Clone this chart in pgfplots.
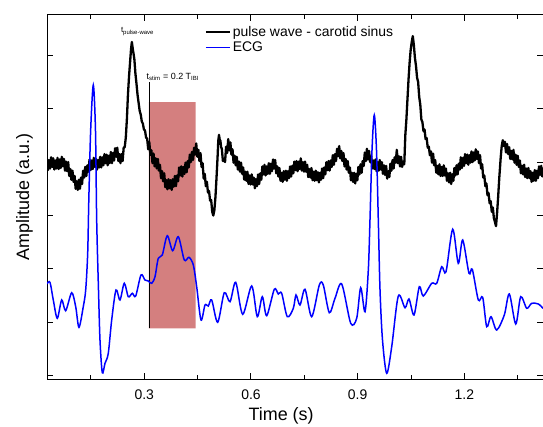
\documentclass[border=0pt]{standalone}
\usepackage{fontspec}
\setmainfont{Liberation Sans}
\usepackage{pgfplots}
\pgfplotsset{compat=1.18}
\definecolor{stimred}{RGB}{212,127,127}
\definecolor{ecgblue}{RGB}{0,0,255}
\pgfplotsset{
  commonframe/.style={
    scale only axis,
    width=496bp, height=364bp,
    xmin=0.0264, xmax=1.4211,
    ymin=-0.0618, ymax=6.755,
  },
}
\begin{document}
\begin{tikzpicture}
\begin{axis}[
  name=ax,
  commonframe,
  xtick={0.3,0.6,0.9,1.2},
  minor xtick={0.15,0.45,0.75,1.05,1.35},
  ytick={0,1,2,3,4,5,6},
  yticklabels={},
  tick align=inside,
  major tick length=6bp,
  minor tick length=4bp,
  every tick/.style={black, line width=1bp},
  axis line style={line width=1bp},
  /pgf/number format/assume math mode=true,
  xticklabel style={font=\fontsize{14}{16}\selectfont, inner sep=0pt, anchor=north, yshift=-11bp},
  xlabel={Time (s)},
  ylabel={Amplitude (a.u.)},
  xlabel style={font=\fontsize{18}{20}\selectfont, inner sep=0pt, at={(axis description cs:0.472,0)}, anchor=north, yshift=-28bp},
  ylabel style={font=\fontsize{18}{20}\selectfont, inner sep=0pt, at={(axis description cs:-0.028,0.5)}, anchor=south},
  legend style={at={(axis description cs:0.3185,0.975)}, anchor=north west, draw=none, fill=none, inner sep=0pt, font=\fontsize{14}{16}\selectfont},
  legend cell align=left,
]
% stimulation window
\addplot[fill=stimred, draw=none, forget plot] coordinates {(0.3132,0.887) (0.4445,0.887) (0.4445,5.125) (0.3132,5.125) (0.3132,0.887)};
\addplot[black, line width=0.9bp, forget plot] coordinates {(0.3132,0.887) (0.3132,5.506)};

% pulse wave - carotid sinus
\addplot[black, line width=2.3bp, line join=round,
  legend image code/.code={\draw[black, line width=1.6bp] (0bp,0bp) -- (24bp,0bp);}] table {
x y
0.026 4.06
0.029 3.85
0.032 4.04
0.035 3.88
0.038 4.09
0.041 3.91
0.044 4.07
0.047 3.86
0.050 4.03
0.053 3.88
0.056 4.08
0.059 3.87
0.062 4.05
0.065 3.89
0.068 4.10
0.071 3.92
0.074 4.06
0.077 3.84
0.080 4.01
0.083 3.83
0.086 4.00
0.089 3.74
0.092 3.87
0.095 3.67
0.098 3.84
0.101 3.63
0.104 3.74
0.107 3.50
0.110 3.64
0.113 3.48
0.116 3.67
0.119 3.50
0.122 3.71
0.125 3.59
0.128 3.84
0.131 3.71
0.134 3.91
0.137 3.74
0.140 3.94
0.143 3.82
0.146 4.05
0.149 3.85
0.152 4.03
0.155 3.87
0.158 4.08
0.161 3.91
0.164 4.06
0.167 3.86
0.170 4.04
0.173 3.90
0.176 4.10
0.179 3.90
0.182 4.09
0.185 3.94
0.188 4.15
0.191 3.98
0.194 4.14
0.197 3.94
0.200 4.12
0.203 3.98
0.206 4.19
0.209 3.98
0.212 4.17
0.215 4.03
0.218 4.26
0.221 4.10
0.224 4.27
0.227 4.02
0.230 4.15
0.233 3.98
0.236 4.15
0.239 4.02
0.242 4.27
0.245 4.28
0.248 4.46
0.251 4.80
0.254 5.26
0.257 5.60
0.260 5.87
0.2625 6.10
0.265 6.25
0.268 6.10
0.2705 6.00
0.272 5.93
0.275 5.66
0.278 5.47
0.281 5.26
0.284 5.11
0.287 4.96
0.290 4.89
0.293 4.76
0.296 4.72
0.299 4.61
0.302 4.59
0.305 4.46
0.308 4.44
0.311 4.24
0.314 4.38
0.317 4.14
0.320 4.22
0.323 3.98
0.326 4.16
0.329 3.92
0.332 4.07
0.335 3.88
0.338 4.06
0.341 3.84
0.344 3.95
0.347 3.70
0.350 3.83
0.353 3.64
0.356 3.79
0.359 3.53
0.362 3.66
0.365 3.49
0.368 3.68
0.371 3.51
0.374 3.66
0.377 3.48
0.380 3.68
0.383 3.54
0.386 3.74
0.389 3.55
0.392 3.75
0.395 3.64
0.398 3.90
0.401 3.75
0.404 3.92
0.407 3.73
0.410 3.91
0.413 3.78
0.416 3.99
0.419 3.81
0.422 4.02
0.425 3.90
0.428 4.14
0.431 4.00
0.434 4.19
0.437 4.04
0.440 4.27
0.443 4.14
0.446 4.35
0.449 4.10
0.452 4.23
0.455 4.02
0.458 4.17
0.461 3.91
0.464 3.98
0.467 3.69
0.470 3.78
0.473 3.55
0.476 3.63
0.479 3.43
0.482 3.46
0.485 3.28
0.488 3.29
0.491 3.07
0.494 3.00
0.497 3.10
0.500 3.34
0.503 3.70
0.506 4.09
0.508 4.40
0.510 4.51
0.512 4.42
0.514 4.40
0.516 4.28
0.518 4.25
0.521 4.02
0.524 4.06
0.527 4.00
0.530 4.29
0.533 4.17
0.536 4.43
0.539 4.22
0.542 4.37
0.545 4.14
0.548 4.24
0.551 3.99
0.554 4.12
0.557 3.94
0.560 4.10
0.563 3.86
0.566 4.01
0.569 3.82
0.572 3.99
0.575 3.78
0.578 3.90
0.581 3.67
0.584 3.82
0.587 3.65
0.590 3.82
0.593 3.59
0.596 3.75
0.599 3.58
0.602 3.77
0.605 3.58
0.608 3.71
0.611 3.51
0.614 3.68
0.617 3.55
0.620 3.77
0.623 3.59
0.626 3.79
0.629 3.67
0.632 3.92
0.635 3.77
0.638 3.95
0.641 3.75
0.644 3.92
0.647 3.78
0.650 3.98
0.653 3.78
0.656 3.97
0.659 3.83
0.662 4.05
0.665 3.88
0.668 4.04
0.671 3.79
0.674 3.92
0.677 3.73
0.680 3.89
0.683 3.65
0.686 3.80
0.689 3.63
0.692 3.83
0.695 3.67
0.698 3.84
0.701 3.65
0.704 3.83
0.707 3.70
0.710 3.92
0.713 3.73
0.716 3.93
0.719 3.79
0.722 4.01
0.725 3.85
0.728 4.02
0.731 3.83
0.734 4.01
0.737 3.87
0.740 4.07
0.743 3.84
0.746 4.00
0.749 3.82
0.752 4.01
0.755 3.82
0.758 3.95
0.761 3.72
0.764 3.87
0.767 3.71
0.770 3.89
0.773 3.66
0.776 3.82
0.779 3.65
0.782 3.84
0.785 3.66
0.788 3.81
0.791 3.62
0.794 3.80
0.797 3.67
0.800 3.88
0.803 3.70
0.806 3.90
0.809 3.77
0.812 4.00
0.815 3.85
0.818 4.02
0.821 3.84
0.824 4.03
0.827 3.91
0.830 4.13
0.833 3.95
0.836 4.15
0.839 4.02
0.842 4.25
0.845 4.11
0.848 4.30
0.851 4.07
0.854 4.21
0.857 4.02
0.860 4.17
0.863 3.92
0.866 4.06
0.869 3.86
0.872 4.02
0.875 3.80
0.878 3.90
0.881 3.66
0.884 3.80
0.887 3.63
0.890 3.80
0.893 3.60
0.896 3.78
0.899 3.66
0.902 3.91
0.905 3.77
0.908 3.96
0.911 3.80
0.914 4.02
0.917 3.93
0.920 4.18
0.923 4.02
0.926 4.25
0.929 4.05
0.932 4.21
0.935 4.00
0.938 4.11
0.941 3.88
0.944 4.03
0.947 3.87
0.950 4.05
0.953 3.83
0.956 4.00
0.959 3.84
0.962 4.04
0.965 3.86
0.968 4.00
0.971 3.78
0.974 3.94
0.977 3.76
0.980 3.93
0.983 3.69
0.986 3.83
0.989 3.72
0.992 3.97
0.995 3.84
0.998 4.04
1.001 3.88
1.004 4.09
1.007 3.99
1.010 4.23
1.013 3.98
1.016 4.11
1.019 3.92
1.022 4.10
1.025 3.91
1.028 4.01
1.031 3.96
1.034 4.51
1.037 4.80
1.040 5.18
1.043 5.55
1.046 5.86
1.049 6.10
1.052 6.25
1.055 6.36
1.058 6.19
1.061 5.95
1.064 5.80
1.067 5.58
1.070 5.50
1.073 5.22
1.076 5.08
1.079 4.80
1.082 4.75
1.085 4.58
1.088 4.61
1.091 4.43
1.094 4.45
1.097 4.27
1.100 4.29
1.103 4.13
1.106 4.20
1.109 3.99
1.112 4.16
1.115 3.94
1.118 4.04
1.121 3.80
1.124 3.93
1.127 3.77
1.130 3.96
1.133 3.74
1.136 3.91
1.139 3.74
1.142 3.94
1.145 3.75
1.148 3.88
1.151 3.65
1.154 3.79
1.157 3.62
1.160 3.80
1.163 3.59
1.166 3.77
1.169 3.65
1.172 3.89
1.175 3.75
1.178 3.94
1.181 3.77
1.184 3.97
1.187 3.86
1.190 4.09
1.193 3.89
1.196 4.08
1.199 3.93
1.202 4.15
1.205 3.98
1.208 4.14
1.211 3.95
1.214 4.13
1.217 3.99
1.220 4.20
1.223 4.00
1.226 4.18
1.229 4.03
1.232 4.24
1.235 4.06
1.238 4.20
1.241 3.98
1.244 4.13
1.247 3.88
1.250 3.96
1.253 3.71
1.256 3.75
1.259 3.55
1.262 3.60
1.265 3.38
1.268 3.42
1.271 3.23
1.274 3.27
1.277 3.07
1.280 3.15
1.283 2.95
1.286 2.88
1.289 2.80
1.292 3.05
1.295 3.35
1.298 3.69
1.302 4.07
1.305 4.30
1.308 4.41
1.311 4.30
1.314 4.38
1.317 4.18
1.320 4.34
1.323 4.15
1.326 4.28
1.329 4.06
1.332 4.21
1.335 4.05
1.338 4.23
1.341 3.99
1.344 4.14
1.347 3.95
1.350 4.12
1.353 3.91
1.356 4.03
1.359 3.79
1.362 3.93
1.365 3.77
1.368 3.95
1.371 3.72
1.374 3.88
1.377 3.70
1.380 3.89
1.383 3.70
1.386 3.83
1.389 3.63
1.392 3.80
1.395 3.65
1.398 3.85
1.401 3.65
1.404 3.84
1.407 3.70
1.410 3.92
1.413 3.76
1.416 3.93
1.419 3.73
1.421 3.90
};
\addlegendentry{pulse wave - carotid sinus}

\node[font=\fontsize{8}{9}\selectfont, inner sep=0pt] at (axis cs:0.2809,6.44) {t\textsubscript{pulse-wave}};
\node[font=\fontsize{9}{10}\selectfont, inner sep=0pt, anchor=west] at (axis cs:0.3060,5.60) {t\textsubscript{stim} = 0.2 T\textsubscript{IBI}};
\end{axis}

\begin{axis}[
  commonframe,
  at={(ax.south west)}, anchor=south west,
  hide axis,
  legend style={at={(axis description cs:0.3185,0.932)}, anchor=north west, draw=none, fill=none, inner sep=0pt, font=\fontsize{14}{16}\selectfont},
  legend cell align=left,
]
% ECG
\addplot[color=ecgblue, line width=1.5bp, smooth,
  legend image code/.code={\draw[ecgblue, line width=1.6bp] (0bp,0bp) -- (24bp,0bp);}] table {
x y
0.0264 1.72
0.0348 1.749
0.0441 1.418
0.0553 1.075
0.0677 1.418
0.0789 1.217
0.0958 1.554
0.1071 1.292
0.1163 0.906
0.1284 1.292
0.1352 1.605
0.1408 2.292
0.1440 3.300
0.1492 4.601
0.1566 5.444
0.1627 4.601
0.1661 2.916
0.1712 1.605
0.1754 0.668
0.1819 0.056
0.1895 0.232
0.1987 0.419
0.2083 1.043
0.2204 1.605
0.2316 1.418
0.2437 1.730
0.2550 1.479
0.2662 1.543
0.2758 1.492
0.2907 1.886
0.3019 1.792
0.3112 1.773
0.3208 1.730
0.3301 1.854
0.3393 2.198
0.3506 2.260
0.3646 2.622
0.3798 2.341
0.3956 2.603
0.4125 2.167
0.4257 2.217
0.4378 2.073
0.4473 1.667
0.4594 1.043
0.4707 1.324
0.4799 1.305
0.4895 1.418
0.5064 1.000
0.5249 1.554
0.5410 1.386
0.5570 1.749
0.5767 1.150
0.6020 1.680
0.6177 1.105
0.6318 1.479
0.6442 1.124
0.6655 1.618
0.6768 1.530
0.6863 1.543
0.7021 1.105
0.7190 1.262
0.7266 1.511
0.7378 1.324
0.7519 1.618
0.7707 1.105
0.7921 1.698
0.8033 1.698
0.8202 1.180
0.8362 1.449
0.8551 1.717
0.8804 0.981
0.8972 1.075
0.9085 1.648
0.9206 1.198
0.9299 1.979
0.9346 2.916
0.9403 4.227
0.9467 4.882
0.9529 4.227
0.9580 2.916
0.9628 1.605
0.9698 0.668
0.9816 0.045
0.9957 0.543
1.0142 1.492
1.0331 1.273
1.0443 1.436
1.0584 1.137
1.0733 1.667
1.0845 1.492
1.1081 1.730
1.1222 1.730
1.1363 2.041
1.1484 1.948
1.1672 2.742
1.1829 2.105
1.1953 2.541
1.2130 1.918
1.2223 1.992
1.2392 1.418
1.2515 1.468
1.2628 0.918
1.2749 1.105
1.2909 0.856
1.3123 1.137
1.3264 1.530
1.3444 0.968
1.3584 1.479
1.3753 1.262
1.3893 1.356
1.4079 1.343
1.4211 1.262
};
\addlegendentry{ECG}
\end{axis}
\pgfresetboundingbox
\useasboundingbox ([shift={(-47bp,-48bp)}]ax.south west) rectangle ([shift={(0bp,15bp)}]ax.north east);
\end{tikzpicture}
\end{document}
